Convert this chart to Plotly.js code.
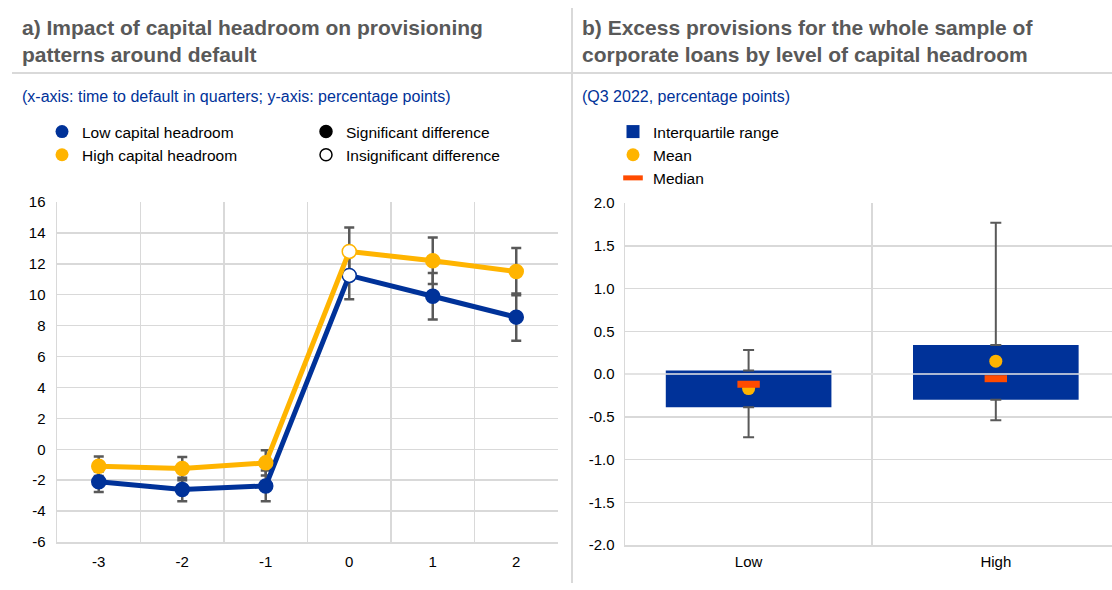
<!DOCTYPE html>
<html>
<head>
<meta charset="utf-8">
<script src="https://cdn.plot.ly/plotly-3.0.1.min.js"></script>
<style>
  html, body { margin: 0; padding: 0; background: #fff; }
  #chart { width: 1112px; height: 590px; }
</style>
</head>
<body>
<div id="chart"></div>
<script>
// ---------- Panel a data ----------
const quarters = ['-3', '-2', '-1', '0', '1', '2'];
const lowHeadroom = [-2.1, -2.6, -2.37, 11.25, 9.9, 8.55];
const highHeadroom = [-1.1, -1.25, -0.88, 12.8, 12.2, 11.5];
const lowError = [0.66, 0.76, 1.0, 1.55, 1.5, 1.53];
const highError = [0.63, 0.75, 0.82, 1.55, 1.5, 1.53];
const significant = [true, true, true, false, true, true];
const yTickValsA = [-6, -4, -2, 0, 2, 4, 6, 8, 10, 12, 14, 16];
const yTickTextA = ['-6', '-4', '-2', '0', '2', '4', '6', '8', '10', '12', '14', '16'];

// ---------- Panel b data ----------
const headroomLevels = ['Low', 'High'];
const q1Values = [-0.39, -0.30];
const q3Values = [0.04, 0.34];
const minValues = [-0.74, -0.54];
const maxValues = [0.28, 1.77];
const meanValues = [-0.17, 0.15];
const medianValues = [-0.12, -0.055];
const yTickValsB = [-2, -1.5, -1, -0.5, 0, 0.5, 1, 1.5, 2];
const yTickTextB = ['-2.0', '-1.5', '-1.0', '-0.5', '0.0', '0.5', '1.0', '1.5', '2.0'];

// ---------- Styles ----------
const BLUE = '#003299';
const YELLOW = '#ffb400';
const ORANGE = '#ff4b00';
const GREY = '#595959';
const GRID = '#d9d9d9';
const FONT = 'Liberation Sans, Arial, sans-serif';

function markerFill(color) {
  return significant.map(s => s ? color : '#ffffff');
}

const traces = [];
const seriesA = [[lowHeadroom, lowError, BLUE], [highHeadroom, highError, YELLOW]];

// Panel a error bars (drawn first, behind lines and markers)
seriesA.forEach(([vals, err]) => {
  traces.push({
    type: 'scatter', mode: 'markers',
    x: quarters, y: vals, xaxis: 'x', yaxis: 'y',
    marker: { size: 1, color: 'rgba(0,0,0,0)' },
    error_y: { type: 'data', array: err, visible: true, color: GREY, thickness: 2.5, width: 5 },
    showlegend: false, hoverinfo: 'skip'
  });
});
// Panel a series
seriesA.forEach(([vals, err, col]) => {
  traces.push({
    type: 'scatter', mode: 'lines+markers',
    x: quarters, y: vals, xaxis: 'x', yaxis: 'y',
    line: { color: col, width: 5 },
    marker: { size: 14, color: markerFill(col), line: { color: col, width: 1.5 } },
    showlegend: false, hoverinfo: 'x+y'
  });
});

// Panel a legends
traces.push({ type: 'scatter', mode: 'markers', x: [null], y: [null], xaxis: 'x', yaxis: 'y',
  name: 'Low capital headroom', marker: { size: 13, color: BLUE }, legend: 'legend' });
traces.push({ type: 'scatter', mode: 'markers', x: [null], y: [null], xaxis: 'x', yaxis: 'y',
  name: 'High capital headroom', marker: { size: 13, color: YELLOW }, legend: 'legend' });
traces.push({ type: 'scatter', mode: 'markers', x: [null], y: [null], xaxis: 'x', yaxis: 'y',
  name: 'Significant difference', marker: { size: 12, color: '#000000', line: { color: '#000', width: 1.5 } }, legend: 'legend2' });
traces.push({ type: 'scatter', mode: 'markers', x: [null], y: [null], xaxis: 'x', yaxis: 'y',
  name: 'Insignificant difference', marker: { size: 12, color: '#ffffff', line: { color: '#000', width: 1.5 } }, legend: 'legend2' });

// Panel b: interquartile range bars
traces.push({
  type: 'bar', x: headroomLevels,
  y: q3Values.map((v, i) => v - q1Values[i]), base: q1Values,
  xaxis: 'x2', yaxis: 'y2', width: 0.67,
  marker: { color: BLUE, line: { width: 0 } },
  name: 'Interquartile range', showlegend: false, hoverinfo: 'x'
});
// Whiskers above box
traces.push({
  type: 'scatter', mode: 'markers', x: headroomLevels, y: q3Values, xaxis: 'x2', yaxis: 'y2',
  marker: { size: 1, color: 'rgba(0,0,0,0)' },
  error_y: { type: 'data', symmetric: false, array: maxValues.map((v, i) => v - q3Values[i]),
    arrayminus: [0, 0], color: GREY, thickness: 2, width: 5.5 },
  showlegend: false, hoverinfo: 'skip'
});
// Whiskers below box
traces.push({
  type: 'scatter', mode: 'markers', x: headroomLevels, y: q1Values, xaxis: 'x2', yaxis: 'y2',
  marker: { size: 1, color: 'rgba(0,0,0,0)' },
  error_y: { type: 'data', symmetric: false, array: [0, 0],
    arrayminus: q1Values.map((v, i) => v - minValues[i]), color: GREY, thickness: 2, width: 5.5 },
  showlegend: false, hoverinfo: 'skip'
});
// Mean
traces.push({
  type: 'scatter', mode: 'markers', x: headroomLevels, y: meanValues, xaxis: 'x2', yaxis: 'y2',
  marker: { size: 13, color: YELLOW }, name: 'Mean', showlegend: false
});
// Median
traces.push({
  type: 'scatter', mode: 'markers', x: headroomLevels, y: medianValues, xaxis: 'x2', yaxis: 'y2',
  marker: { symbol: 'line-ew', size: 16, line: { color: ORANGE, width: 7 } }, name: 'Median', showlegend: false
});

// Panel b legends
traces.push({ type: 'scatter', mode: 'markers', x: [null], y: [null], xaxis: 'x2', yaxis: 'y2',
  name: 'Interquartile range', marker: { symbol: 'square', size: 13, color: BLUE }, legend: 'legend3' });
traces.push({ type: 'scatter', mode: 'markers', x: [null], y: [null], xaxis: 'x2', yaxis: 'y2',
  name: 'Mean', marker: { size: 13, color: YELLOW }, legend: 'legend3' });
traces.push({ type: 'scatter', mode: 'markers', x: [null], y: [null], xaxis: 'x2', yaxis: 'y2',
  name: 'Median', marker: { symbol: 'line-ew', size: 14, line: { color: ORANGE, width: 6 } }, legend: 'legend3' });

const W = 1112, H = 590;
const px = v => v / W;
const py = v => 1 - v / H;

const legendBase = {
  font: { family: FONT, size: 15.5, color: '#000' },
  bgcolor: 'rgba(0,0,0,0)', borderwidth: 0,
  xanchor: 'left', yanchor: 'top', orientation: 'v',
  tracegroupgap: 0, itemwidth: 30
};

const axisCommon = {
  showgrid: true, gridcolor: GRID, gridwidth: 1.5,
  showline: true, linecolor: GRID, linewidth: 1.5,
  zeroline: false, ticks: '',
  tickfont: { family: FONT, size: 15, color: '#000' },
  fixedrange: true
};

const layout = {
  width: W, height: H,
  margin: { l: 0, r: 0, t: 0, b: 0 },
  paper_bgcolor: '#fff', plot_bgcolor: '#fff',
  font: { family: FONT },
  showlegend: true,
  xaxis: Object.assign({}, axisCommon, {
    type: 'category', domain: [px(57), px(558)], anchor: 'y',
    range: [-0.5, 5.5], tickson: 'boundaries', ticklabelstandoff: 5
  }),
  yaxis: Object.assign({}, axisCommon, {
    domain: [1 - 542 / H, 1 - 202 / H], anchor: 'x',
    range: [-6, 16], tickvals: yTickValsA, ticktext: yTickTextA, ticklabelstandoff: 7
  }),
  xaxis2: Object.assign({}, axisCommon, {
    type: 'category', domain: [px(625), 1], anchor: 'y2',
    range: [-0.5, 1.47], tickson: 'boundaries', ticklabelstandoff: 2
  }),
  yaxis2: Object.assign({}, axisCommon, {
    domain: [1 - 545 / H, 1 - 203 / H], anchor: 'x2',
    range: [-2, 2], tickvals: yTickValsB, ticktext: yTickTextB, ticklabelstandoff: 6
  }),
  legend: Object.assign({}, legendBase, { x: px(42), y: py(115) }),
  legend2: Object.assign({}, legendBase, { x: px(306), y: py(115) }),
  legend3: Object.assign({}, legendBase, { x: px(613), y: py(115) }),
  annotations: [
    { text: '<b>a) Impact of capital headroom on provisioning<br>patterns around default</b>',
      xref: 'paper', yref: 'paper', x: px(20), y: py(14), xanchor: 'left', yanchor: 'top',
      align: 'left', showarrow: false, font: { family: FONT, size: 21, color: GREY } },
    { text: '<b>b) Excess provisions for the whole sample of<br>corporate loans by level of capital headroom</b>',
      xref: 'paper', yref: 'paper', x: px(580), y: py(14), xanchor: 'left', yanchor: 'top',
      align: 'left', showarrow: false, font: { family: FONT, size: 21, color: GREY } },
    { text: '(x-axis: time to default in quarters; y-axis: percentage points)',
      xref: 'paper', yref: 'paper', x: px(20), y: py(86), xanchor: 'left', yanchor: 'top',
      align: 'left', showarrow: false, font: { family: FONT, size: 16, color: BLUE } },
    { text: '(Q3 2022, percentage points)',
      xref: 'paper', yref: 'paper', x: px(580), y: py(86), xanchor: 'left', yanchor: 'top',
      align: 'left', showarrow: false, font: { family: FONT, size: 16, color: BLUE } }
  ],
  shapes: [
    { type: 'line', xref: 'paper', yref: 'paper', x0: px(12), x1: 1, y0: py(73), y1: py(73),
      line: { color: GRID, width: 2 } },
    { type: 'line', xref: 'paper', yref: 'paper', x0: px(572), x1: px(572), y0: py(8), y1: py(583),
      line: { color: GRID, width: 2 } },
    { type: 'line', xref: 'x2 domain', yref: 'y2', x0: 0, x1: 1, y0: 0, y1: 0, layer: 'above',
      line: { color: '#e6e6e6', width: 1.5 } }
  ]
};

Plotly.newPlot('chart', traces, layout, { displayModeBar: false, staticPlot: true });
</script>
</body>
</html>
